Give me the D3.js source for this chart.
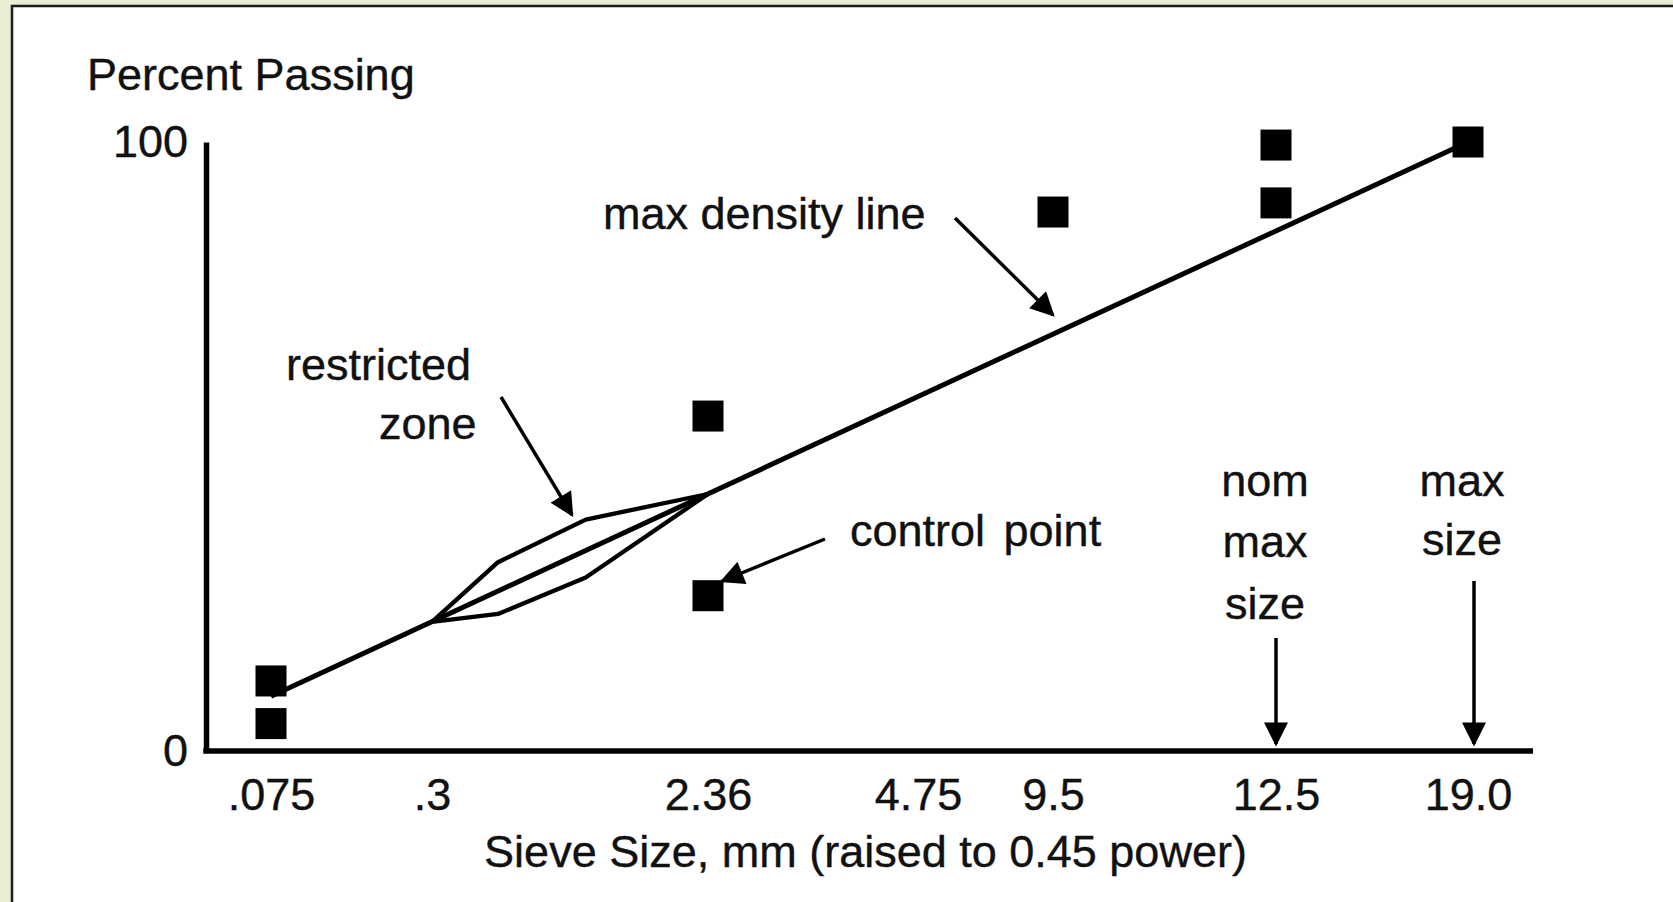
<!DOCTYPE html>
<html>
<head>
<meta charset="utf-8">
<script src="https://d3js.org/d3.v7.min.js"></script>
<style>
  body { margin: 0; background: #e9edd5; overflow: hidden; }
  text { font-family: "Liberation Sans", Arial, sans-serif; fill: #111; stroke: #111; stroke-width: 0.4px; }
</style>
</head>
<body>
<div id="my_dataviz"></div>
<script>
// sieve sizes on the x axis (mm) and how they are printed
var sieveTicks = [0.075, 0.3, 2.36, 4.75, 9.5, 12.5, 19.0];
var sieveLabels = [".075", ".3", "2.36", "4.75", "9.5", "12.5", "19.0"];
var percentTicks = [0, 100];

// control points (sieve size, percent passing)
var controlSizes = [0.075, 0.075, 2.36, 2.36, 9.5, 12.5, 12.5, 19.0];
var controlPercents = [11.5, 4.5, 55, 25.5, 88.5, 99.5, 90, 100];

// max density line, end points
var maxDensitySizes = [0.075, 19.0];
var maxDensityPercents = [9, 100];

// restricted zone boundaries
var zoneSizes = [0.3, 0.6, 1.18, 2.36];
var zoneUpper = [21.2, 31, 38, 42.2];
var zoneLower = [21.2, 22.5, 28.5, 42.2];

// set the dimensions and margins of the graph
var margin = {top: 142, right: 140, bottom: 151, left: 206},
    width = 1673 - margin.left - margin.right,
    height = 902 - margin.top - margin.bottom;

// the drawing is not to scale, so the 0.45 power axis is pinned tick by tick
var sieveStops = [65, 226, 502, 712, 847, 1070, 1262];

var root = d3.select("#my_dataviz")
  .append("svg")
    .attr("width", 1673)
    .attr("height", 902)
    .style("display", "block");

// white sheet with its dark edge
root.append("rect")
    .attr("x", 12)
    .attr("y", 6)
    .attr("width", 1700)
    .attr("height", 1000)
    .attr("fill", "#fff")
    .attr("stroke", "#1c1c1c")
    .attr("stroke-width", 2.5);

var defs = root.append("defs");
defs.append("marker")
    .attr("id", "head")
    .attr("viewBox", "0 0 10 10")
    .attr("refX", 9)
    .attr("refY", 5)
    .attr("markerWidth", 26)
    .attr("markerHeight", 24)
    .attr("markerUnits", "userSpaceOnUse")
    .attr("orient", "auto")
  .append("path")
    .attr("d", "M0,0 L10,5 L0,10 z")
    .attr("fill", "#000");

var svg = root.append("g")
    .attr("transform", "translate(" + margin.left + "," + margin.top + ")");

// scales
var x = d3.scalePow()
    .exponent(0.45)
    .domain(sieveTicks)
    .range(sieveStops);

var y = d3.scaleLinear()
    .domain([0, 100])
    .range([height, 0]);

// Y axis
var yAxis = svg.append("g")
    .style("font", "45px 'Liberation Sans'")
    .call(d3.axisLeft(y).tickValues(percentTicks).tickSize(0).tickSizeOuter(0).tickPadding(18));
yAxis.select(".domain")
    .attr("stroke", "#000")
    .attr("stroke-width", 5.5);
yAxis.selectAll("text").attr("fill", "#111");

// X axis
var xAxis = svg.append("g")
    .attr("transform", "translate(0," + height + ")")
    .style("font", "45px 'Liberation Sans'")
    .call(d3.axisBottom(x)
      .tickValues(sieveTicks)
      .tickFormat(function(d, i) { return sieveLabels[i]; })
      .tickSize(0)
      .tickPadding(27));
xAxis.select(".domain").remove();
xAxis.selectAll("text").attr("fill", "#111");

svg.append("line")
    .attr("x1", -2.75)
    .attr("x2", width)
    .attr("y1", height)
    .attr("y2", height)
    .attr("stroke", "#000")
    .attr("stroke-width", 5.5);

// labels
svg.append("text")
    .attr("x", -119)
    .attr("y", -52)
    .attr("font-size", "45px")
    .text("Percent Passing");

svg.append("text")
    .attr("text-anchor", "middle")
    .attr("x", width / 2 - 4)
    .attr("y", height + 116)
    .attr("font-size", "45px")
    .text("Sieve Size, mm (raised to 0.45 power)");

// restricted zone
var zone = zoneSizes.map(function(s, i) { return {size: s, upper: zoneUpper[i], lower: zoneLower[i]}; });

svg.append("path")
    .datum(zone)
    .attr("fill", "none")
    .attr("stroke", "#000")
    .attr("stroke-width", 4.3)
    .attr("stroke-linejoin", "round")
    .attr("d", d3.line()
      .x(function(d) { return x(d.size); })
      .y(function(d) { return y(d.upper); }));

svg.append("path")
    .datum(zone)
    .attr("fill", "none")
    .attr("stroke", "#000")
    .attr("stroke-width", 4.3)
    .attr("stroke-linejoin", "round")
    .attr("d", d3.line()
      .x(function(d) { return x(d.size); })
      .y(function(d) { return y(d.lower); }));

// max density line
var maxDensity = maxDensitySizes.map(function(s, i) { return {size: s, pct: maxDensityPercents[i]}; });

svg.append("path")
    .datum(maxDensity)
    .attr("fill", "none")
    .attr("stroke", "#000")
    .attr("stroke-width", 5)
    .attr("d", d3.line()
      .x(function(d) { return x(d.size); })
      .y(function(d) { return y(d.pct); }));

// control points
var controls = controlSizes.map(function(s, i) { return {size: s, pct: controlPercents[i]}; });
var side = 31;

svg.append("g")
  .selectAll("rect")
  .data(controls)
  .enter()
  .append("rect")
    .attr("x", function(d) { return x(d.size) - side / 2; })
    .attr("y", function(d) { return y(d.pct) - side / 2; })
    .attr("width", side)
    .attr("height", side)
    .attr("fill", "#000");

// annotations, page coordinates
var notes = root.append("g").attr("font-size", "45px");

notes.append("text").attr("x", 603).attr("y", 229).text("max density line");
notes.append("text").attr("x", 286).attr("y", 380).text("restricted");
notes.append("text").attr("x", 379).attr("y", 439).text("zone");
notes.append("text").attr("x", 850).attr("y", 546).attr("word-spacing", "6px").text("control point");

var nomX = margin.left + x(12.5) - 11;
var maxX = margin.left + x(19.0) - 6;
notes.append("text").attr("text-anchor", "middle").attr("x", nomX).attr("y", 496).text("nom");
notes.append("text").attr("text-anchor", "middle").attr("x", nomX).attr("y", 557).text("max");
notes.append("text").attr("text-anchor", "middle").attr("x", nomX).attr("y", 619).text("size");
notes.append("text").attr("text-anchor", "middle").attr("x", maxX).attr("y", 496).text("max");
notes.append("text").attr("text-anchor", "middle").attr("x", maxX).attr("y", 555).text("size");

// arrows
var arrows = [
  [955, 218, 1053, 315],
  [501, 397, 572, 515],
  [825, 539, 722, 581],
  [margin.left + x(12.5), 638, margin.left + x(12.5), 744],
  [margin.left + x(19.0) + 6, 581, margin.left + x(19.0) + 6, 744]
];

notes.selectAll("line")
  .data(arrows)
  .enter()
  .append("line")
    .attr("x1", function(d) { return d[0]; })
    .attr("y1", function(d) { return d[1]; })
    .attr("x2", function(d) { return d[2]; })
    .attr("y2", function(d) { return d[3]; })
    .attr("stroke", "#000")
    .attr("stroke-width", 3.5)
    .attr("marker-end", "url(#head)");
</script>
</body>
</html>
